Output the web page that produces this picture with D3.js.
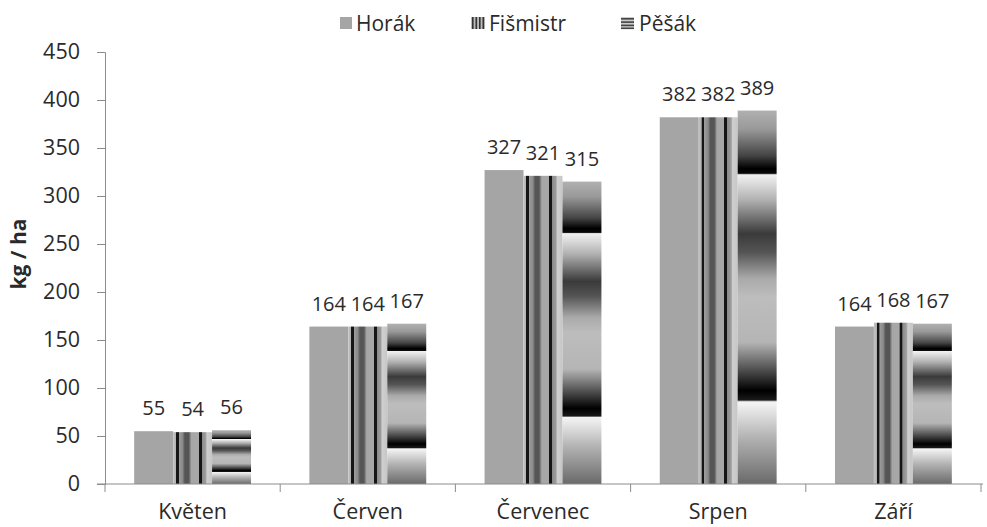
<!DOCTYPE html>
<html>
<head>
<meta charset="utf-8">
<script src="https://cdn.jsdelivr.net/npm/d3@7"></script>
<style>
  html, body { margin: 0; padding: 0; background: #fff; }
  svg { display: block; }
  text { font-family: "Open Sans", "DejaVu Sans", sans-serif; fill: #2a2a2a; }
</style>
</head>
<body>
<svg id="chart" width="987" height="527"></svg>
<script>
// ---- data ----
const categories = ["Květen", "Červen", "Červenec", "Srpen", "Září"];
const seriesNames = ["Horák", "Fišmistr", "Pěšák"];
const horak    = [55, 164, 327, 382, 164];
const fismistr = [54, 164, 321, 382, 168];
const pesak    = [56, 167, 315, 389, 167];
const yTicks   = [0, 50, 100, 150, 200, 250, 300, 350, 400, 450];
const yTitle   = "kg / ha";

const seriesValues = [horak, fismistr, pesak];

// ---- layout ----
const svg = d3.select("#chart");
const pL = 105, pR = 981, pT = 52, pB = 484;
const fs = "21.5px";

const x0 = d3.scaleBand().domain(categories).range([pL, pR]).paddingInner(0).paddingOuter(0);
const bw = x0.bandwidth();
const groupW = bw * 0.667;
const x1 = d3.scaleBand().domain(seriesNames).range([0, groupW]).padding(0);
const y = d3.scaleLinear().domain([0, 450]).range([pB, pT]);

// ---- gradients ----
const defs = svg.append("defs");
function addGrad(id, vertical, stops) {
  const g = defs.append("linearGradient").attr("id", id)
    .attr("x1", 0).attr("y1", 0)
    .attr("x2", vertical ? 0 : 1).attr("y2", vertical ? 1 : 0);
  stops.forEach(([o, c]) => g.append("stop").attr("offset", o).attr("stop-color", c));
}
addGrad("gFis", false, [
  [0, "#c4c4c4"], [0.07, "#b0b0b0"], [0.075, "#151515"], [0.14, "#151515"], [0.145, "#9c9c9c"],
  [0.24, "#8a8a8a"], [0.30, "#555"], [0.40, "#555"], [0.47, "#a6a6a6"], [0.655, "#a8a8a8"],
  [0.66, "#151515"], [0.73, "#151515"], [0.735, "#8a8a8a"], [0.83, "#9c9c9c"], [0.87, "#cfcfcf"], [1, "#c6c6c6"]
]);
addGrad("gPes", true, [
  [0, "#b0b0b0"], [0.05, "#999"], [0.12, "#454545"], [0.155, "#000"], [0.168, "#0a0a0a"],
  [0.172, "#f2f2f2"], [0.24, "#b0b0b0"], [0.33, "#3a3a3a"], [0.38, "#555"], [0.45, "#aaa"],
  [0.5, "#bdbdbd"], [0.62, "#b5b5b5"], [0.69, "#555"], [0.75, "#000"], [0.775, "#1a1a1a"],
  [0.78, "#f5f5f5"], [0.88, "#b0b0b0"], [1, "#6a6a6a"]
]);
const fills = ["#a5a5a5", "url(#gFis)", "url(#gPes)"];

// ---- axes ----
const yAxis = d3.axisLeft(y).tickValues(yTicks).tickSize(8).tickPadding(17);
const gy = svg.append("g").attr("transform", `translate(${pL},0)`).call(yAxis);
gy.selectAll("path, line").attr("stroke", "#8c8c8c");
gy.selectAll("text").style("font-size", fs).attr("fill", "#2a2a2a").attr("font-family", null);

// bars
categories.forEach((c, ci) => {
  const gx0 = x0(c) + (bw - groupW) / 2;
  seriesNames.forEach((s, si) => {
    const v = seriesValues[si][ci];
    svg.append("rect")
      .attr("x", gx0 + x1(s))
      .attr("y", y(v))
      .attr("width", x1.bandwidth())
      .attr("height", y(0) - y(v))
      .attr("fill", fills[si]);
    svg.append("text")
      .attr("x", gx0 + x1(s) + x1.bandwidth() / 2)
      .attr("y", y(v) - 16)
      .attr("text-anchor", "middle")
      .style("font-size", "20px")
      .text(v);
  });
});

const xAxis = d3.axisBottom(x0).tickSize(0).tickPadding(0);
const gX = svg.append("g").attr("transform", `translate(0,${pB})`).call(xAxis);
gX.select(".domain").remove();
gX.selectAll("text").remove();
svg.append("line").attr("x1", pL - 8).attr("x2", pR + 2).attr("y1", pB).attr("y2", pB)
  .attr("stroke", "#8c8c8c");
// category boundary ticks
const bounds = categories.map(c => x0(c)).concat([pR]);
svg.selectAll(".xt").data(bounds).enter().append("line")
  .attr("x1", d => d).attr("x2", d => d).attr("y1", pB).attr("y2", pB + 8)
  .attr("stroke", "#8c8c8c");
svg.selectAll(".xl").data(categories).enter().append("text")
  .attr("x", d => x0(d) + bw / 2).attr("y", 519)
  .attr("text-anchor", "middle").style("font-size", fs).text(d => d);

// y title
svg.append("text")
  .attr("transform", "translate(26,254) rotate(-90)")
  .attr("text-anchor", "middle")
  .style("font-size", "21px").style("font-weight", "bold")
  .text(yTitle);

// ---- legend ----
const legX = [340, 471, 621];
const leg = svg.append("g");
seriesNames.forEach((s, i) => {
  const lx = legX[i], ly = 17;
  if (i === 0) {
    leg.append("rect").attr("x", lx).attr("y", ly).attr("width", 12).attr("height", 12).attr("fill", "#a5a5a5");
  } else if (i === 1) {
    leg.append("rect").attr("x", lx).attr("y", ly).attr("width", 14).attr("height", 12).attr("fill", "#bbb");
    [1, 4.5, 8, 11.5].forEach(d => leg.append("rect").attr("x", lx + d).attr("y", ly)
      .attr("width", 1.6).attr("height", 12).attr("fill", "#333"));
  } else {
    leg.append("rect").attr("x", lx).attr("y", ly).attr("width", 13).attr("height", 12).attr("fill", "#ccc");
    [1, 4.3, 7.6, 10.5].forEach(d => leg.append("rect").attr("x", lx).attr("y", ly + d)
      .attr("width", 13).attr("height", 1.6).attr("fill", "#444"));
  }
  leg.append("text").attr("x", lx + (i === 0 ? 16 : 18)).attr("y", 31)
    .style("font-size", "21px").text(s);
});
</script>
</body>
</html>
